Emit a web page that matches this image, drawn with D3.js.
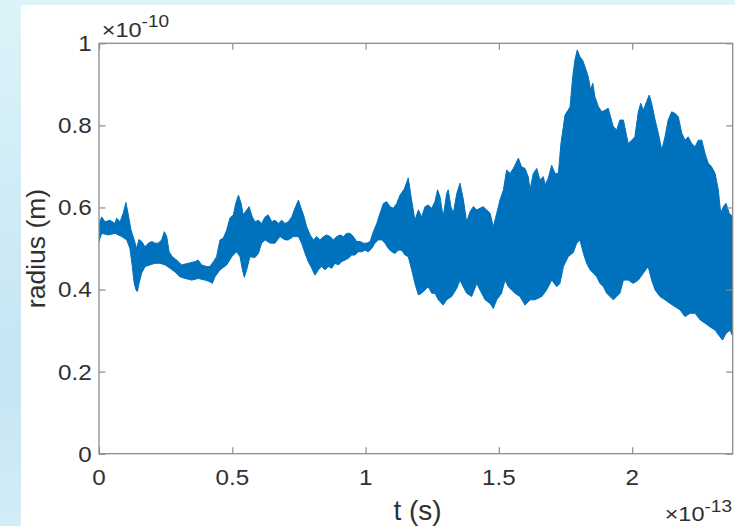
<!DOCTYPE html>
<html><head><meta charset="utf-8">
<script src="https://cdn.jsdelivr.net/npm/d3@7"></script>
<style>html,body{margin:0;padding:0;overflow:hidden;background:#d6eff8}svg{display:block}</style>
</head><body>
<svg id="c" width="735" height="526"></svg>
<script>
// time in units of 1e-13 s, radius in units of 1e-10 m
const xExp = -13, yExp = -10;
const xTicks = [0, 0.5, 1, 1.5, 2];
const yTicks = [0, 0.2, 0.4, 0.6, 0.8, 1];
const xMax = 2.377;
// upper envelope of the rapidly oscillating radius signal
const upperT = [0,0.010,0.0225,0.041,0.060,0.066,0.079,0.091,0.101,0.110,0.120,0.132,0.141,0.150,0.160,0.173,0.185,0.198,0.210,0.222,0.235,0.245,0.254,0.263,0.275,0.291,0.310,0.335,0.360,0.372,0.385,0.404,0.416,0.429,0.441,0.454,0.466,0.479,0.491,0.504,0.513,0.523,0.533,0.541,0.554,0.563,0.575,
0.585,0.598,0.610,0.623,0.635,0.648,0.660,0.673,0.685,0.698,0.710,0.723,0.735,0.748,0.758,0.767,0.779,0.792,0.804,0.817,0.829,0.842,0.854,0.867,0.879,0.892,0.904,0.917,0.929,0.942,0.954,0.967,0.979,0.992,1.004,1.017,1.029,1.042,1.054,1.067,1.079,1.092,1.104,1.117,1.129,1.145,1.160,1.172,
1.185,1.198,1.210,1.223,1.235,1.248,1.260,1.270,1.279,1.291,1.304,1.310,1.320,1.329,1.342,1.354,1.366,1.379,1.392,1.404,1.417,1.429,1.441,1.454,1.467,1.479,1.492,1.504,1.517,1.529,1.542,1.554,1.573,1.585,1.598,1.610,1.617,1.629,1.642,1.654,1.667,1.673,1.685,1.698,1.710,1.723,1.733,1.748,
1.767,1.777,1.785,1.794,1.804,1.814,1.823,1.835,1.844,1.852,1.860,1.873,1.886,1.898,1.910,1.919,1.929,1.942,1.954,1.967,1.977,1.985,1.998,2.010,2.023,2.032,2.042,2.054,2.064,2.073,2.086,2.098,2.111,2.123,2.135,2.148,2.161,2.173,2.186,2.198,2.210,2.223,2.236,2.248,2.261,2.273,2.285,2.298,2.311,2.323,2.332,2.342,2.352,2.364,2.378];
const upperR = [0.561,0.577,0.565,0.569,0.561,0.574,0.565,0.586,0.612,0.582,0.545,0.521,0.500,0.522,0.517,0.504,0.513,0.517,0.513,0.513,0.521,0.541,0.529,0.492,0.480,0.472,0.460,0.464,0.468,0.472,0.460,0.456,0.456,0.468,0.480,0.521,0.525,0.545,0.574,0.582,0.610,0.630,0.610,0.582,0.594,0.602,0.577,
0.565,0.569,0.561,0.577,0.582,0.565,0.569,0.561,0.569,0.561,0.565,0.577,0.598,0.618,0.598,0.582,0.553,0.533,0.521,0.529,0.521,0.529,0.533,0.529,0.521,0.529,0.533,0.529,0.537,0.537,0.529,0.517,0.517,0.513,0.513,0.517,0.541,0.561,0.586,0.610,0.614,0.602,0.598,0.610,0.630,0.645,0.672,0.620,
0.569,0.594,0.577,0.602,0.606,0.598,0.614,0.643,0.626,0.577,0.634,0.643,0.602,0.586,0.634,0.659,0.622,0.565,0.590,0.602,0.594,0.598,0.602,0.594,0.586,0.553,0.586,0.618,0.643,0.691,0.683,0.695,0.720,0.699,0.695,0.675,0.643,0.683,0.695,0.667,0.675,0.655,0.671,0.703,0.683,0.683,0.757,0.825,
0.845,0.919,0.959,0.984,0.967,0.959,0.943,0.919,0.886,0.903,0.870,0.846,0.833,0.837,0.842,0.821,0.797,0.789,0.813,0.813,0.781,0.756,0.764,0.772,0.833,0.854,0.837,0.858,0.874,0.854,0.813,0.781,0.740,0.772,0.813,0.833,0.829,0.821,0.781,0.764,0.772,0.756,0.748,0.764,0.764,0.732,0.708,0.699,0.683,0.643,0.586,0.602,0.610,0.586,0.577];
// lower envelope
const lowerT = [0,0.010,0.035,0.060,0.085,0.104,0.116,0.125,0.132,0.139,0.144,0.150,0.160,0.173,0.191,0.210,0.229,0.248,0.266,0.285,0.304,0.323,0.348,0.372,0.398,0.416,0.425,0.435,0.454,0.479,0.498,0.516,0.529,0.538,0.545,0.554,0.566,
0.585,0.598,0.610,0.623,0.642,0.660,0.679,0.698,0.710,0.729,0.748,0.760,0.773,0.785,0.798,0.810,0.823,0.835,0.848,0.860,0.873,0.885,0.898,0.910,0.923,0.935,0.948,0.960,0.973,0.985,0.998,1.010,1.023,1.035,1.048,1.060,1.073,1.085,1.098,1.110,1.123,1.135,1.148,1.160,1.173,1.185,1.198,
1.210,1.223,1.235,1.248,1.260,1.273,1.291,1.304,1.323,1.342,1.354,1.366,1.379,1.398,1.417,1.429,1.448,1.467,1.479,1.492,1.510,1.523,1.535,1.560,1.579,1.598,1.617,1.635,1.661,1.679,1.698,1.717,1.729,1.742,1.760,1.779,
1.792,1.804,1.817,1.829,1.842,1.854,1.867,1.879,1.892,1.904,1.917,1.929,1.942,1.954,1.967,1.985,2.004,2.023,2.042,2.060,2.073,2.086,2.104,2.123,2.142,2.161,2.180,2.198,2.217,2.236,2.255,2.273,2.292,2.311,2.329,2.339,2.352,2.367,2.378];
const lowerR = [0.517,0.537,0.533,0.537,0.529,0.521,0.500,0.456,0.415,0.399,0.395,0.415,0.440,0.456,0.460,0.464,0.464,0.460,0.452,0.443,0.431,0.427,0.423,0.427,0.423,0.419,0.415,0.431,0.448,0.460,0.480,0.492,0.480,0.448,0.430,0.448,0.480,
0.478,0.488,0.513,0.521,0.513,0.513,0.529,0.521,0.521,0.529,0.529,0.513,0.488,0.468,0.452,0.435,0.448,0.456,0.448,0.456,0.452,0.464,0.460,0.468,0.472,0.476,0.484,0.484,0.492,0.492,0.496,0.492,0.500,0.513,0.521,0.521,0.513,0.500,0.492,0.488,0.496,0.496,0.484,0.480,0.448,0.415,0.387,
0.391,0.399,0.407,0.391,0.391,0.375,0.362,0.375,0.383,0.403,0.423,0.407,0.391,0.383,0.415,0.399,0.375,0.366,0.354,0.375,0.391,0.423,0.407,0.391,0.383,0.362,0.375,0.375,0.383,0.399,0.423,0.407,0.415,0.456,0.480,0.490,
0.513,0.521,0.488,0.464,0.448,0.440,0.431,0.415,0.407,0.391,0.383,0.375,0.383,0.391,0.423,0.423,0.415,0.423,0.440,0.456,0.423,0.399,0.383,0.375,0.366,0.358,0.350,0.334,0.342,0.342,0.326,0.318,0.309,0.301,0.285,0.277,0.293,0.301,0.285];

const svg = d3.select('#c');
const W = 735, H = 526;
const m = {l: 99, t: 43.3, r: 732.7, b: 453.7};
const font = '"Liberation Sans", Arial, Helvetica, sans-serif';
const axCol = '#8c8c8c', txtCol = '#303030';

// background
const defs = svg.append('defs');
const g1 = defs.append('linearGradient').attr('id','bg').attr('x1',0).attr('y1',0).attr('x2',0).attr('y2',1);
g1.append('stop').attr('offset','0%').attr('stop-color','#dcf4f9');
g1.append('stop').attr('offset','40%').attr('stop-color','#cfebf6');
g1.append('stop').attr('offset','70%').attr('stop-color','#c6e4f3');
g1.append('stop').attr('offset','100%').attr('stop-color','#d3edf7');
svg.append('rect').attr('width',W).attr('height',H).attr('fill','url(#bg)');
svg.append('rect').attr('x',21).attr('y',5).attr('width',W-21).attr('height',H-5).attr('fill','#ffffff');

const x = d3.scaleLinear().domain([0, xMax]).range([m.l, m.r]);
const y = d3.scaleLinear().domain([0, 1]).range([m.b, m.t]);

defs.append('clipPath').attr('id','clip').append('rect')
  .attr('x',m.l).attr('y',m.t).attr('width',m.r-m.l).attr('height',m.b-m.t);

// data band (envelope of the dense oscillation)
const pts = upperT.map((t,i)=>[t, upperR[i]])
  .concat(lowerT.map((t,i)=>[t, lowerR[i]]).reverse());
const line = d3.line().x(d=>x(d[0])).y(d=>y(d[1]));
svg.append('path').attr('clip-path','url(#clip)')
  .attr('d', line(pts) + 'Z')
  .attr('fill','#0072bd').attr('stroke','#0072bd').attr('stroke-width',1)
  .attr('stroke-linejoin','miter');

// axes box
svg.append('rect').attr('x',m.l).attr('y',m.t).attr('width',m.r-m.l).attr('height',m.b-m.t)
  .attr('fill','none').attr('stroke',axCol).attr('stroke-width',1.3);

const tl = 6.5;
const gx = svg.append('g').attr('transform',`translate(0,${m.b})`)
  .call(d3.axisBottom(x).tickValues(xTicks).tickSize(-tl).tickFormat(''));
const gxt = svg.append('g').attr('transform',`translate(0,${m.t})`)
  .call(d3.axisTop(x).tickValues(xTicks).tickSize(-tl).tickFormat(''));
const gy = svg.append('g').attr('transform',`translate(${m.l},0)`)
  .call(d3.axisLeft(y).tickValues(yTicks).tickSize(-tl).tickFormat(''));
const gyr = svg.append('g').attr('transform',`translate(${m.r},0)`)
  .call(d3.axisRight(y).tickValues(yTicks).tickSize(-tl).tickFormat(''));
[gx,gxt,gy,gyr].forEach(g=>{
  g.select('.domain').remove();
  g.selectAll('.tick line').attr('stroke',axCol).attr('stroke-width',1.2);
});

// tick labels (slightly wide glyphs like the reference)
const fmt = d3.format('~g');
const sx = 1.1;
svg.append('g').selectAll('text').data(xTicks).join('text')
  .attr('transform', d=>`translate(${x(d)},${m.b+31.3}) scale(${sx},1)`)
  .attr('text-anchor','middle').attr('fill',txtCol)
  .style('font-family',font).style('font-size','22px').text(fmt);
svg.append('g').selectAll('text').data(yTicks).join('text')
  .attr('transform', d=>`translate(${m.l-7.3},${y(d)}) scale(${sx},1)`)
  .attr('dy','0.36em').attr('text-anchor','end').attr('fill',txtCol)
  .style('font-family',font).style('font-size','22px').text(fmt);

// axis labels
svg.append('text').attr('x',417.5).attr('y',520).attr('text-anchor','middle')
  .attr('fill',txtCol).style('font-family',font).style('font-size','28px').text('t (s)');
svg.append('text').attr('transform',`translate(45,${(m.t+m.b)/2}) rotate(-90)`).attr('text-anchor','middle')
  .attr('fill',txtCol).style('font-family',font).style('font-size','26.5px').text('radius (m)');

// exponent labels
function expLabel(xp, yp, exp, anchor){
  const t = svg.append('text').attr('transform',`translate(${xp},${yp}) scale(1.12,1)`).attr('text-anchor',anchor)
    .attr('fill',txtCol).style('font-family',font).style('font-size','21px');
  t.append('tspan').text('\u00d710');
  t.append('tspan').attr('dy',-9.5).style('font-size','17px').text(String(exp));
}
expLabel(101.7, 36.7, yExp, 'start');
expLabel(732, 521, xExp, 'end');
</script>
</body></html>
